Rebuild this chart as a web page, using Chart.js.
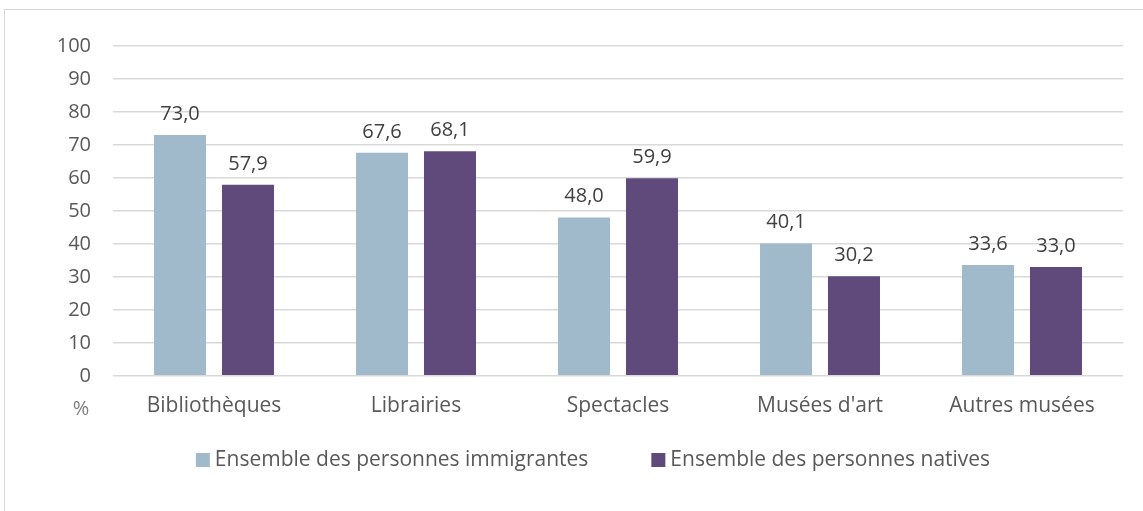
<!DOCTYPE html>
<html><head><meta charset="utf-8">
<script src="https://cdn.jsdelivr.net/npm/chart.js@4"></script>
<style>
html,body{margin:0;padding:0;background:#fff;}
#wrap{position:relative;width:1143px;height:511px;overflow:hidden;}
#frame{position:absolute;left:4px;top:9px;width:1160px;height:520px;border-top:1px solid #d9d9d9;border-left:1px solid #d9d9d9;}
canvas{position:absolute;left:0;top:0;}
</style></head>
<body><div id="wrap"><div id="frame"></div><canvas id="c" width="1143" height="511"></canvas></div>
<script>
const categories = ["Bibliothèques","Librairies","Spectacles","Musées d'art","Autres musées"];
const immigrants = [73.0, 67.6, 48.0, 40.1, 33.6];
const natives = [57.9, 68.1, 59.9, 30.2, 33.0];
const seriesNames = ["Ensemble des personnes immigrantes","Ensemble des personnes natives"];
const yTicks = [0,10,20,30,40,50,60,70,80,90,100];

const FONT = "'Open Sans', sans-serif";
const fmt = v => v.toFixed(1).replace('.', ',');

const labelsPlugin = {
  id: 'vals',
  afterDatasetsDraw(chart) {
    const ctx = chart.ctx;
    ctx.save();
    ctx.font = "20px " + FONT;
    ctx.fillStyle = "#404040";
    ctx.textAlign = "center";
    ctx.textBaseline = "middle";
    chart.data.datasets.forEach((ds, i) => {
      chart.getDatasetMeta(i).data.forEach((bar, j) => {
        ctx.fillText(fmt(ds.data[j]), bar.x, bar.y - 21);
      });
    });
    const ys = chart.scales.y;
    ctx.font = "20px " + FONT;
    ctx.fillStyle = "#7f7f7f";
    ctx.fillText("%", 81, ys.bottom + 33);

    // legend
    ctx.font = "21px " + FONT;
    ctx.textAlign = "left";
    const box = 14, gapT = 5, gapI = 63;
    const w = chart.data.datasets.map(d => ctx.measureText(d.label).width);
    const total = w.reduce((a, b) => a + b, 0) + 2 * (box + gapT) + gapI;
    let x = 593 - total / 2;
    const cy = 460;
    chart.data.datasets.forEach((d, i) => {
      ctx.fillStyle = d.backgroundColor;
      ctx.fillRect(x, cy - box / 2, box, box);
      x += box + gapT;
      ctx.fillStyle = "#595959";
      ctx.fillText(d.label, x, cy);
      x += w[i] + gapI;
    });
    ctx.restore();
  }
};

new Chart(document.getElementById('c'), {
  type: 'bar',
  data: {
    labels: categories,
    datasets: [
      { label: seriesNames[0], data: immigrants, backgroundColor: '#a0bacc', categoryPercentage: 0.673, barPercentage: 0.765 },
      { label: seriesNames[1], data: natives, backgroundColor: '#604a7b', categoryPercentage: 0.673, barPercentage: 0.765 }
    ]
  },
  options: {
    responsive: false,
    animation: false,
    layout: { padding: { left: 20, right: 20, top: 46, bottom: 74 } },
    plugins: {
      legend: { display: false },
      tooltip: { enabled: false }
    },
    scales: {
      x: {
        grid: { display: false, drawTicks: false },
        border: { display: false },
        ticks: { color: '#595959', font: { family: FONT, size: 21 }, padding: 18 }
      },
      y: {
        min: 0, max: 100,
        afterBuildTicks: s => { s.ticks = yTicks.map(v => ({ value: v })); },
        afterFit: s => { s.width = 93; },
        grid: { color: '#d9d9d9', lineWidth: 1.5, drawTicks: false },
        border: { display: false },
        ticks: { color: '#595959', font: { family: FONT, size: 20 }, padding: 22 }
      }
    }
  },
  plugins: [labelsPlugin]
});
</script></body></html>
